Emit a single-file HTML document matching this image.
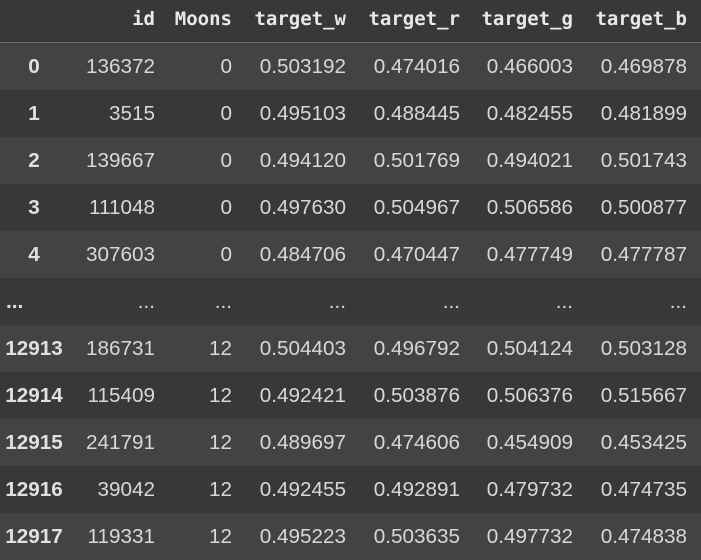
<!DOCTYPE html>
<html><head><meta charset="utf-8"><style>
body{margin:0;width:701px;height:554px;overflow:hidden;background:#383838;font-family:"Liberation Sans",sans-serif;}
.r{position:absolute;left:0;width:701px;height:47px;}
.c{position:absolute;top:0;line-height:47px;font-size:20.7px;color:#d8d8d8;white-space:nowrap;}
.hd{position:absolute;left:0;top:0;width:701px;height:42px;background:#383838;border-bottom:1px solid #6a6a6a;}
.h{position:absolute;top:0;line-height:38px;font-family:"DejaVu Sans Mono","Liberation Mono",monospace;font-weight:bold;font-size:19px;color:#e8e8e8;}
.ix{font-weight:bold;color:#e0e0e0;}
</style></head><body>
<div class="hd">
<span class="h" style="right:546px">id</span>
<span class="h" style="right:469px">Moons</span>
<span class="h" style="right:355px">target_w</span>
<span class="h" style="right:241px">target_r</span>
<span class="h" style="right:128px">target_g</span>
<span class="h" style="right:14px">target_b</span>
</div>
<div id="body"></div>
<script>
const idx=["0","1","2","3","4","...","12913","12914","12915","12916","12917"];
const ids=["136372","3515","139667","111048","307603","...","186731","115409","241791","39042","119331"];
const moons=["0","0","0","0","0","...","12","12","12","12","12"];
const tw=["0.503192","0.495103","0.494120","0.497630","0.484706","...","0.504403","0.492421","0.489697","0.492455","0.495223"];
const tr=["0.474016","0.488445","0.501769","0.504967","0.470447","...","0.496792","0.503876","0.474606","0.492891","0.503635"];
const tg=["0.466003","0.482455","0.494021","0.506586","0.477749","...","0.504124","0.506376","0.454909","0.479732","0.497732"];
const tb=["0.469878","0.481899","0.501743","0.500877","0.477787","...","0.503128","0.515667","0.453425","0.474735","0.474838"];
const rights=[546,469,355,241,128,14];
const b=document.getElementById('body');
idx.forEach((ix,i)=>{
 const r=document.createElement('div');
 r.className='r';
 
 
 r.style.top=(43+47*i)+'px';
 r.style.background=i%2===0?'#434343':'#383838';
 const s=document.createElement('span');
 s.className='c ix';
 
 
 if(ix==='...'){s.style.left='6px';}else{s.style.left='0';s.style.width='68px';s.style.textAlign='center';}
 s.textContent=ix;r.appendChild(s);
 [ids,moons,tw,tr,tg,tb].forEach((arr,j)=>{
  const c=document.createElement('span');
  c.className='c';
  
  
  c.style.right=rights[j]+'px';
  c.textContent=arr[i];r.appendChild(c);
 });
 b.appendChild(r);
});
</script>
</body></html>
